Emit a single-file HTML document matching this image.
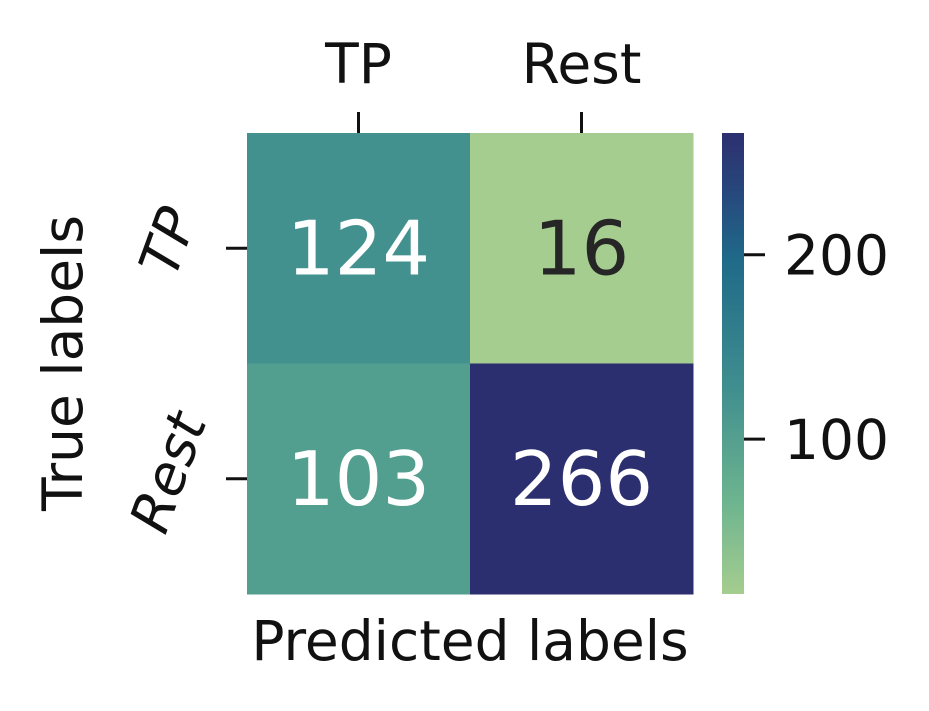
<!DOCTYPE html>
<html><head><meta charset="utf-8"><style>body{margin:0;background:#fff}svg{display:block}text{font-family:"DejaVu Sans","Liberation Sans",sans-serif}</style></head>
<body>
<svg id="chart" width="929" height="711" xmlns="http://www.w3.org/2000/svg">
<defs><linearGradient id="crest" x1="0" y1="1" x2="0" y2="0">
<stop offset="0" stop-color="#a5cd8f"/><stop offset="0.2" stop-color="#6db48f"/><stop offset="0.45" stop-color="#3f8e8f"/><stop offset="0.72" stop-color="#1f6b89"/><stop offset="0.87" stop-color="#27487d"/><stop offset="1" stop-color="#2c2f6f"/></linearGradient></defs>
<g id="cells"></g>
<rect x="722" y="133" width="22" height="461" fill="url(#crest)"/>
<g id="cbticks"></g>
<g id="axes"></g>
<text x="470" y="660" font-size="55" text-anchor="middle" fill="#111">Predicted labels</text>
<text transform="translate(82,363) rotate(-90)" font-size="55" text-anchor="middle" fill="#111">True labels</text>
</svg>
<script>
const xLabels=["TP","Rest"];
const yLabels=["TP","Rest"];
const values=[[124,16],[103,266]];
const cbTicks=[100,200];
const vmin=16,vmax=266;
const ns="http://www.w3.org/2000/svg";
const L=247,T=133,W=446,H=461;
const cw=W/xLabels.length,ch=H/yLabels.length;
const stops=[[0,[165,205,143]],[0.2,[109,180,143]],[0.45,[63,142,143]],[0.72,[31,107,137]],[0.87,[39,72,125]],[1,[44,47,111]]];
function color(v){const t=(v-vmin)/(vmax-vmin);for(let i=1;i<stops.length;i++){if(t<=stops[i][0]){const a=stops[i-1],b=stops[i],f=(t-a[0])/(b[0]-a[0]);return`rgb(${a[1].map((c,k)=>Math.round(c+(b[1][k]-c)*f)).join(",")})`;}}return"rgb(44,47,111)";}
function mk(tag,at,p){const e=document.createElementNS(ns,tag);for(const k in at)e.setAttribute(k,at[k]);p.appendChild(e);return e;}
const cells=document.getElementById("cells");
values.forEach((row,r)=>row.forEach((v,c)=>{
const rc=mk("rect",{x:L+c*cw,y:T+r*ch,width:cw+0.5,height:ch+0.5,fill:color(v)},cells);


const t=mk("text",{x:L+c*cw+cw/2,y:T+r*ch+ch/2+26,"font-size":75,"text-anchor":"middle",fill:(v-vmin)/(vmax-vmin)<0.15?"#262626":"#fff"},cells);
t.textContent=v;


}));
const ax=document.getElementById("axes");
xLabels.forEach((l,i)=>{const x=L+i*cw+cw/2;
const tk=mk("line",{x1:x,y1:T-21,x2:x,y2:T,stroke:"#111","stroke-width":3},ax);


const t=mk("text",{x:x,y:83,"font-size":55,"text-anchor":"middle",fill:"#111"},ax);t.textContent=l;

});
yLabels.forEach((l,i)=>{const y=T+i*ch+ch/2;
const tk=mk("line",{x1:L-21,y1:y,x2:L,y2:y,stroke:"#111","stroke-width":3},ax);


const t=mk("text",{transform:`translate(186,${y}) rotate(-70)`,"font-size":55,"font-style":"italic","text-anchor":"middle",fill:"#111"},ax);t.textContent=l;

});
const cb=document.getElementById("cbticks");
cbTicks.forEach(v=>{const y=T+H-(v-vmin)/(vmax-vmin)*H;
const tk=mk("line",{x1:744,y1:y,x2:765,y2:y,stroke:"#111","stroke-width":3},cb);


const t=mk("text",{x:784,y:y+20,"font-size":55,fill:"#111"},cb);t.textContent=v;

});
</script>
</body></html>
